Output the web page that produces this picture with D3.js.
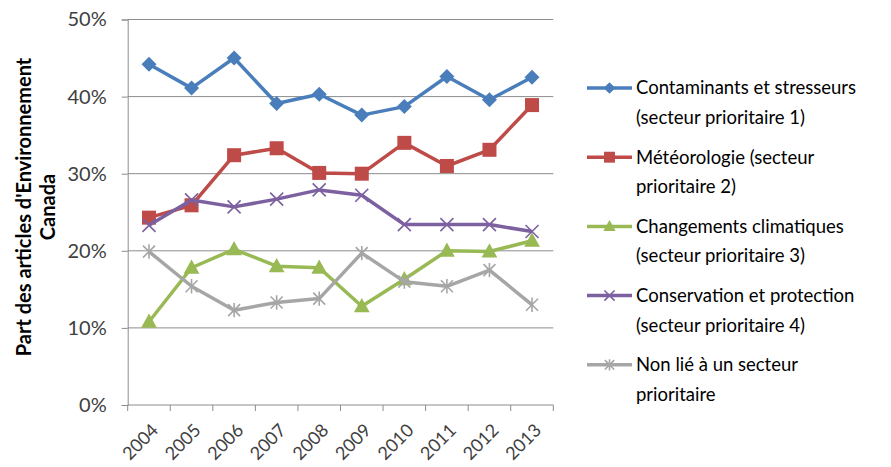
<!DOCTYPE html>
<html>
<head>
<meta charset="utf-8">
<script src="https://cdn.jsdelivr.net/npm/d3@7/dist/d3.min.js"></script>
<style>
  html, body { margin: 0; padding: 0; background: #fff; }
  svg { display: block; font-family: Lato, "Open Sans", sans-serif; }
</style>
</head>
<body>
<svg id="chart" width="891" height="467"></svg>
<script>
// Years on the category axis
const years = ["2004","2005","2006","2007","2008","2009","2010","2011","2012","2013"];

// Share of Environment Canada articles by priority sector (fractions)
const contaminants = [0.442, 0.411, 0.450, 0.391, 0.403, 0.376, 0.387, 0.426, 0.396, 0.425];
const meteorologie = [0.243, 0.259, 0.324, 0.333, 0.301, 0.300, 0.340, 0.310, 0.331, 0.389];
const changements  = [0.108, 0.178, 0.202, 0.180, 0.178, 0.128, 0.163, 0.200, 0.199, 0.213];
const conservation = [0.233, 0.266, 0.257, 0.267, 0.279, 0.272, 0.234, 0.234, 0.234, 0.225];
const nonLie       = [0.199, 0.154, 0.123, 0.133, 0.138, 0.197, 0.160, 0.154, 0.175, 0.130];

const yTicks = [0, 0.1, 0.2, 0.3, 0.4, 0.5];

const seriesNames = [
  ["Contaminants et stresseurs", "(secteur prioritaire 1)"],
  ["Météorologie (secteur", "prioritaire 2)"],
  ["Changements climatiques", "(secteur prioritaire 3)"],
  ["Conservation et protection", "(secteur prioritaire 4)"],
  ["Non lié à un secteur", "prioritaire"]
];
const seriesValues = [contaminants, meteorologie, changements, conservation, nonLie];
const seriesColors = ["#4A7EBB", "#BE4B48", "#98B954", "#7D60A0", "#A6A6A6"];
const seriesMarkers = ["diamond", "square", "triangle", "cross", "star"];

const svg = d3.select("#chart");
const plot = { left: 127.7, right: 553.3, top: 19.5, bottom: 405 };

const x = d3.scaleBand().domain(years).range([plot.left, plot.right]);
const y = d3.scaleLinear().domain([0, 0.5]).range([plot.bottom, plot.top]);

// Horizontal gridlines
svg.append("g").selectAll("line").data(yTicks.filter(d => d > 0)).join("line")
  .attr("x1", plot.left).attr("x2", plot.right)
  .attr("y1", d => y(d)).attr("y2", d => y(d))
  .attr("stroke", "#8C8C8C").attr("stroke-width", 1);

// Y axis
const yAxis = svg.append("g").attr("transform", `translate(${plot.left},0)`)
  .call(d3.axisLeft(y).tickValues(yTicks).tickFormat(d3.format(".0%")).tickSize(6).tickPadding(15));
yAxis.select(".domain").attr("stroke", "#8C8C8C");
yAxis.selectAll(".tick line").attr("stroke", "#8C8C8C");
yAxis.selectAll(".tick text").attr("fill", "#404040").style("font-size", "20px")
  .style("font-family", "Lato, 'Open Sans', sans-serif");

// X axis with tick marks at category boundaries
const xAxisG = svg.append("g").attr("transform", `translate(0,${plot.bottom})`);
xAxisG.append("line").attr("x1", plot.left).attr("x2", plot.right)
  .attr("stroke", "#8C8C8C");
const boundaries = years.map(d => x(d)).concat([plot.right]);
xAxisG.selectAll("line.tk").data(boundaries).join("line").attr("class", "tk")
  .attr("x1", d => d).attr("x2", d => d).attr("y1", 0).attr("y2", 6)
  .attr("stroke", "#8C8C8C");
xAxisG.selectAll("text").data(years).join("text")
  .attr("transform", d => `translate(${x(d) + x.bandwidth() / 2 + 6},${22}) rotate(-45)`)
  .attr("text-anchor", "end")
  .attr("dy", "0.35em")
  .attr("fill", "#404040")
  .style("font-size", "18px")
  .text(d => d);

// Y axis title
const yTitle = svg.append("text")
  .attr("transform", "translate(31,207) rotate(-90)")
  .attr("text-anchor", "middle")
  .attr("font-weight", "bold")
  .attr("fill", "#000")
  .style("font-size", "20px");
yTitle.append("tspan").attr("x", 0).attr("dy", 0).text("Part des articles d'Environnement");
yTitle.append("tspan").attr("x", 0).attr("dy", "1.2em").text("Canada");

// Marker drawing
function drawMarker(g, type, color, size) {
  const s = size / 2;
  if (type === "diamond") {
    g.append("path").attr("d", `M0,${-s}L${s},0L0,${s}L${-s},0Z`).attr("fill", color);
  } else if (type === "square") {
    g.append("rect").attr("x", -s).attr("y", -s).attr("width", size).attr("height", size).attr("fill", color);
  } else if (type === "triangle") {
    g.append("path").attr("d", `M0,${-s * 1.1}L${s * 1.05},${s * 0.8}L${-s * 1.05},${s * 0.8}Z`).attr("fill", color);
  } else if (type === "cross") {
    g.append("path").attr("d", `M${-s},${-s}L${s},${s}M${-s},${s}L${s},${-s}`)
      .attr("stroke", color).attr("stroke-width", 1.6).attr("fill", "none");
  } else if (type === "star") {
    g.append("path").attr("d", `M${-s},${-s}L${s},${s}M${-s},${s}L${s},${-s}M0,${-s * 1.2}L0,${s * 1.2}`)
      .attr("stroke", color).attr("stroke-width", 1.6).attr("fill", "none");
  }
}

const line = d3.line()
  .x((d, i) => x(years[i]) + x.bandwidth() / 2)
  .y(d => y(d));

const markerSizes = { diamond: 15, square: 14, triangle: 15, cross: 13, star: 12 };

seriesValues.forEach((vals, k) => {
  const color = seriesColors[k];
  svg.append("path").datum(vals)
    .attr("d", line)
    .attr("fill", "none")
    .attr("stroke", color)
    .attr("stroke-width", 3.5)
    .attr("stroke-linejoin", "round");
  svg.append("g").selectAll("g").data(vals).join("g")
    .attr("transform", (d, i) => `translate(${x(years[i]) + x.bandwidth() / 2},${y(d)})`)
    .each(function () { drawMarker(d3.select(this), seriesMarkers[k], color, markerSizes[seriesMarkers[k]]); });
});

// Legend
const legend = svg.append("g");
const legendTop = 88, legendStep = 69.2;
seriesNames.forEach((lines, k) => {
  const gy = legendTop + k * legendStep;
  const g = legend.append("g").attr("transform", `translate(0,${gy})`);
  g.append("line").attr("x1", 587).attr("x2", 632).attr("y1", 0).attr("y2", 0)
    .attr("stroke", seriesColors[k]).attr("stroke-width", 3.5);
  const m = g.append("g").attr("transform", "translate(609.5,0)");
  drawMarker(m, seriesMarkers[k], seriesColors[k], markerSizes[seriesMarkers[k]] * 0.78);
  const t = g.append("text").attr("x", 636).attr("y", 0).attr("fill", "#000").style("font-size", "18.5px");
  lines.forEach((ln, j) => {
    t.append("tspan").attr("x", 636).attr("dy", j === 0 ? "0.35em" : "1.6em").text(ln);
  });
});
</script>
</body>
</html>
